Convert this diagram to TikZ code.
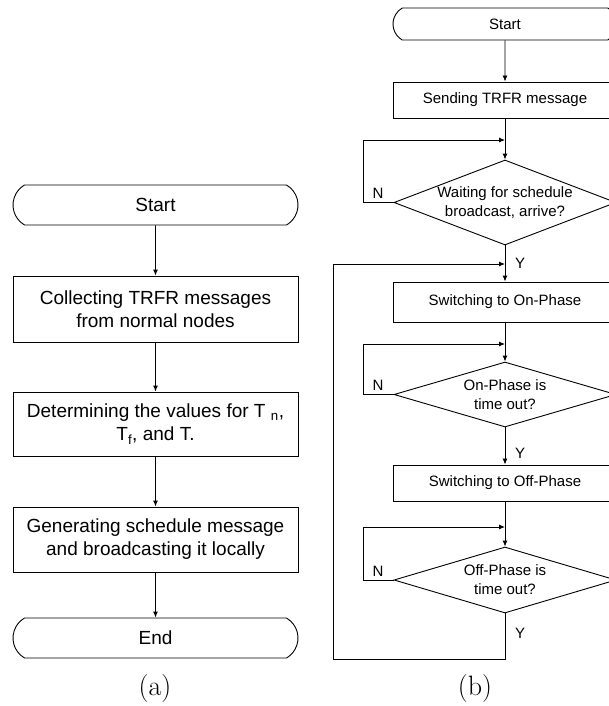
\documentclass[tikz,border=0pt]{standalone}
\usepackage{fontspec}
\newfontfamily\arialfont{Liberation Sans}
\usetikzlibrary{shapes.geometric,shapes.misc,arrows.meta}
\begin{document}
\begin{tikzpicture}[x=1pt, y=-1pt, line width=.9pt,
    every node/.style={font=\arialfont},
    big/.style={font=\arialfont\fontsize{19}{23}\selectfont},
    small/.style={font=\arialfont\fontsize{15}{19}\selectfont},
    term/.style={draw, rounded rectangle, rounded rectangle arc length=120, inner sep=0pt},
    box/.style={draw, rectangle, inner sep=0pt, align=center},
    test/.style={draw, diamond, aspect=2.6, inner sep=-10pt, align=center, small},
    subcap/.style={font=\fontsize{28}{32}\selectfont, inner sep=0pt},
    arr/.style={-{Latex[length=6pt,width=5pt]}}]
  \useasboundingbox (0,0) rectangle (609,706);
  % (a) the cluster head
  \node[term, big, minimum width=285, minimum height=40] (startA) at (155.5,205) {Start};
  \node[box, big, minimum width=285, minimum height=66] (collect) at (155.5,309) {Collecting TRFR messages\\from normal nodes};
  \node[box, big, minimum width=285, minimum height=64] (values) at (155.5,424) {Determining the values for T~\textsubscript{n},\\T\textsubscript{f}, and T.};
  \node[box, big, minimum width=285, minimum height=65] (bcast) at (155.5,539.5) {Generating schedule message\\and broadcasting it locally};
  \node[term, big, minimum width=285, minimum height=40] (endA) at (155.5,638) {End};
  \draw[arr] (startA) -- (collect);
  \draw[arr] (collect) -- (values);
  \draw[arr] (values) -- (bcast);
  \draw[arr] (bcast) -- (endA);
  \node[subcap] (capA) at (155,688.5) {(a)};
  % (b) a normal node
  \node[term, small, minimum width=224, minimum height=32] (startB) at (505,24) {Start};
  \node[box, small, minimum width=224, minimum height=36] (send) at (505,100) {Sending TRFR message};
  \node[test, minimum width=222, minimum height=85] (wait) at (505,202.5) {Waiting for schedule\\broadcast, arrive?};
  \node[box, small, minimum width=224, minimum height=40] (onph) at (505,302) {Switching to On-Phase};
  \node[test, minimum width=222, minimum height=65] (ontest) at (505,394.5) {On-Phase is\\time out?};
  \node[box, small, minimum width=224, minimum height=36] (offph) at (505,483) {Switching to Off-Phase};
  \node[test, minimum width=222, minimum height=66] (offtest) at (505,580) {Off-Phase is\\time out?};
  \coordinate (loopx) at (363,0);
  \coordinate (j0) at (505,264); \coordinate (j1) at (505,140);
  \coordinate (j2) at (505,344); \coordinate (j3) at (505,527);
  \coordinate (back) at (333,659);
  \draw[arr] (startB) -- (send);
  \draw[arr] (send) -- (wait);
  \draw[arr] (wait.west) -- (wait.west -| loopx) |- (j1);
  \draw[arr] (wait) -- (onph);
  \draw[arr] (onph) -- (ontest);
  \draw[arr] (ontest.west) -- (ontest.west -| loopx) |- (j2);
  \draw[arr] (ontest) -- (offph);
  \draw[arr] (offph) -- (offtest);
  \draw[arr] (offtest.west) -- (offtest.west -| loopx) |- (j3);
  \draw[arr] (offtest.south) |- (back) |- (j0);
  \node[small] (n1) at (378,193.5) {N};
  \node[small] (n2) at (378,385.5) {N};
  \node[small] (n3) at (378,571) {N};
  \node[small] (y1) at (520,263) {Y};
  \node[small] (y2) at (520,453) {Y};
  \node[small] (y3) at (520,633) {Y};
  \node[subcap] (capB) at (475,688.5) {(b)};
\end{tikzpicture}
\end{document}
